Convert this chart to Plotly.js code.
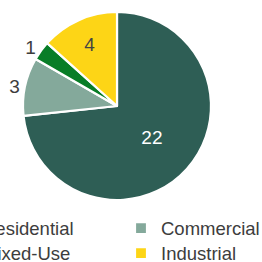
<!DOCTYPE html>
<html>
<head>
<meta charset="utf-8">
<script src="https://cdn.plot.ly/plotly-3.0.1.min.js"></script>
<style>
  html, body { margin: 0; padding: 0; overflow: hidden; width: 262px; height: 262px; background: #fff; }
  #chart { position: absolute; left: -58px; top: 0; width: 358px; height: 262px; }
</style>
</head>
<body>
<div id="chart"></div>
<script>
const categories = ['Residential', 'Commercial', 'Mixed-Use', 'Industrial'];
const counts = [22, 3, 1, 4];
const colors = ['#2e5e55', '#84a99b', '#087d27', '#fdd516'];
const labelPositions = ['inside', 'outside', 'outside', 'inside'];

const FONT = '"Liberation Sans", Arial, sans-serif';
const LEGEND_TEXT_SIZE = 18.5;

const trace = {
  type: 'pie',
  labels: categories.map(c => '<span style="font-size:' + LEGEND_TEXT_SIZE + 'px">' + c + '</span>'),
  values: counts,
  sort: false,
  direction: 'clockwise',
  rotation: 0,
  marker: { colors: colors, line: { color: '#ffffff', width: 2.2 } },
  textinfo: 'value',
  textposition: labelPositions,
  insidetextorientation: 'horizontal',
  textfont: { family: FONT, size: 19 },
  outsidetextfont: { family: FONT, size: 19, color: '#3d3d3d' },
  hoverinfo: 'none',
  domain: { x: [0.2263, 0.7514], y: [0.2366, 0.9542] }
};

const layout = {
  width: 358,
  height: 262,
  margin: { l: 0, r: 0, t: 0, b: 0, autoexpand: false },
  paper_bgcolor: '#ffffff',
  showlegend: true,
  font: { family: FONT, color: '#3d3d3d' },
  legend: {
    orientation: 'h',
    x: 0, xanchor: 'left',
    y: 0.1966, yanchor: 'top',
    entrywidthmode: 'fraction',
    entrywidth: 0.5,
    font: { family: FONT, size: 17, color: '#3d3d3d' },
    bgcolor: 'rgba(0,0,0,0)'
  }
};

Plotly.newPlot('chart', [trace], layout, { displayModeBar: false, staticPlot: true });
</script>
</body>
</html>
